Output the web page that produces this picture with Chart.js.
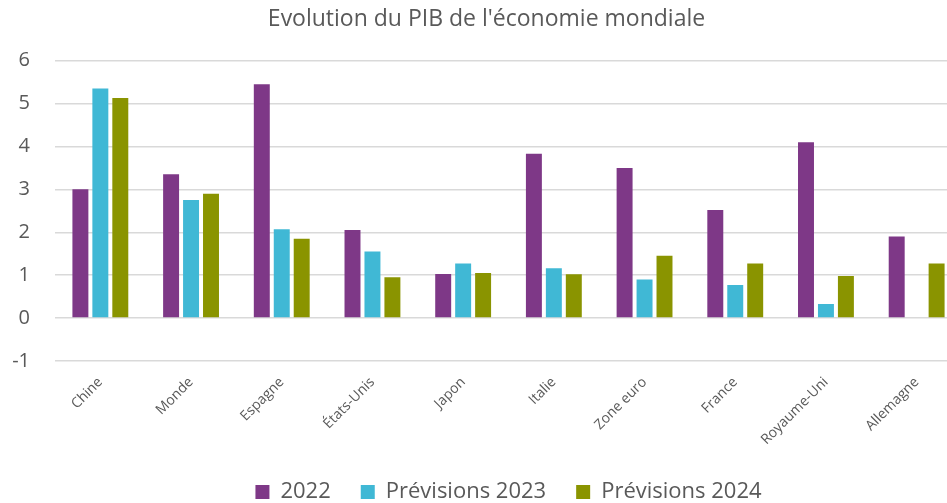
<!DOCTYPE html>
<html>
<head>
<meta charset="utf-8">
<script src="https://cdn.jsdelivr.net/npm/chart.js@4"></script>
<style>
  html, body { margin: 0; padding: 0; background: #fff; overflow: hidden; }
  #wrap { width: 975px; height: 513px; position: relative; }
</style>
</head>
<body>
<div id="wrap"><canvas id="c"></canvas></div>
<script>
const categories = ["Chine", "Monde", "Espagne", "États-Unis", "Japon", "Italie", "Zone euro", "France", "Royaume-Uni", "Allemagne"];
const seriesNames = ["2022", "Prévisions 2023", "Prévisions 2024"];
const values2022 = [3.0, 3.35, 5.45, 2.05, 1.03, 3.83, 3.5, 2.52, 4.1, 1.9];
const values2023 = [5.35, 2.75, 2.07, 1.55, 1.27, 1.16, 0.9, 0.77, 0.33, null];
const values2024 = [5.13, 2.9, 1.85, 0.95, 1.05, 1.02, 1.45, 1.27, 0.98, 1.27];
const yTicks = [-1, 0, 1, 2, 3, 4, 5, 6];

const colors = ["#7E3887", "#40B8D5", "#8A9400"];
const fontFamily = "'Open Sans', 'Noto Sans', sans-serif";
const textColor = "#595959";

const chart = new Chart(document.getElementById("c"), {
  type: "bar",
  data: {
    labels: categories,
    datasets: [values2022, values2023, values2024].map((d, i) => ({
      label: seriesNames[i],
      data: d,
      backgroundColor: colors[i],
      borderWidth: 0,
      categoryPercentage: 0.66,
      barPercentage: 0.8
    }))
  },
  options: {
    responsive: true,
    maintainAspectRatio: false,
    animation: false,
    layout: { padding: { left: 11, right: 13, top: 0, bottom: 0 } },
    plugins: {
      title: {
        display: true,
        text: "Evolution du PIB de l'économie mondiale",
        color: textColor,
        font: { family: fontFamily, size: 23, weight: "normal" },
        padding: { top: 6, bottom: 27 }
      },
      legend: {
        position: "bottom",
        fullSize: false,
        labels: {
          color: textColor,
          font: { family: fontFamily, size: 22 },
          boxWidth: 14,
          boxHeight: 14,
          padding: 30
        }
      },
      tooltip: { enabled: false }
    },
    scales: {
      x: {
        grid: { display: false, drawTicks: false },
        border: { display: false },
        ticks: {
          color: textColor,
          font: { family: fontFamily, size: 14 },
          minRotation: 45,
          maxRotation: 45,
          padding: 13,
          autoSkip: false
        },
        afterFit: (s) => { s.height = 90; }
      },
      y: {
        min: yTicks[0],
        max: yTicks[yTicks.length - 1],
        afterBuildTicks: (s) => { s.ticks = yTicks.map(v => ({ value: v })); },
        grid: { color: "#d9d9d9", lineWidth: 1.5, drawTicks: false },
        border: { display: false },
        ticks: {
          color: textColor,
          font: { family: fontFamily, size: 20 },
          padding: 25,
          callback: (v) => (v < 0 ? "-" + Math.abs(v) : String(v))
        },
        afterFit: (s) => { s.width = 44; }
      }
    }
  }
});
</script>
</body>
</html>
